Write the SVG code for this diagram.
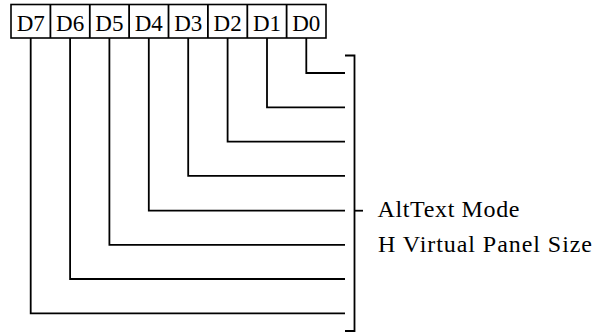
<svg xmlns="http://www.w3.org/2000/svg" width="607" height="332" viewBox="0 0 607 332">
<style>
.ln{fill:none;stroke:#000;stroke-width:1.8}
.box{fill:#fff;stroke:#000;stroke-width:1.6}
.reg{font-family:'Liberation Serif','Times New Roman',serif;font-size:23px;fill:#000;text-anchor:middle}
.lbl{font-family:'Liberation Serif','Times New Roman',serif;font-size:24px;fill:#000}
</style>
<rect width="607" height="332" fill="#fff"/>
<g id="connectors">
<polyline class="ln" points="306.3,38 306.3,73 345,73"/>
<polyline class="ln" points="267,38 267,107.3 345,107.3"/>
<polyline class="ln" points="227.6,38 227.6,141.6 345,141.6"/>
<polyline class="ln" points="188.2,38 188.2,175.9 345,175.9"/>
<polyline class="ln" points="148.8,38 148.8,210.7 345,210.7"/>
<polyline class="ln" points="109.4,38 109.4,244.8 345,244.8"/>
<polyline class="ln" points="70.1,38 70.1,279 345,279"/>
<polyline class="ln" points="30.7,38 30.7,313.3 345,313.3"/>
</g>
<g id="bracket">
<polyline class="ln" points="345,55.5 354.5,55.5 354.5,331 345,331"/>
<line class="ln" x1="354.5" y1="210.7" x2="363" y2="210.7"/>
</g>
<g id="register">
<rect class="box" x="11" y="4.5" width="315" height="33.5"/>
<line class="ln" x1="50.4" y1="4.5" x2="50.4" y2="38" stroke-width="1.6"/>
<line class="ln" x1="89.8" y1="4.5" x2="89.8" y2="38" stroke-width="1.6"/>
<line class="ln" x1="129.1" y1="4.5" x2="129.1" y2="38" stroke-width="1.6"/>
<line class="ln" x1="168.5" y1="4.5" x2="168.5" y2="38" stroke-width="1.6"/>
<line class="ln" x1="207.9" y1="4.5" x2="207.9" y2="38" stroke-width="1.6"/>
<line class="ln" x1="247.3" y1="4.5" x2="247.3" y2="38" stroke-width="1.6"/>
<line class="ln" x1="286.6" y1="4.5" x2="286.6" y2="38" stroke-width="1.6"/>
<text class="reg" x="30.7" y="30.5">D7</text>
<text class="reg" x="70.1" y="30.5">D6</text>
<text class="reg" x="109.4" y="30.5">D5</text>
<text class="reg" x="148.8" y="30.5">D4</text>
<text class="reg" x="188.2" y="30.5">D3</text>
<text class="reg" x="227.6" y="30.5">D2</text>
<text class="reg" x="267" y="30.5">D1</text>
<text class="reg" x="306.3" y="30.5">D0</text>
</g>
<g id="label-d4">
<text class="lbl" x="377.5" y="217" textLength="142" lengthAdjust="spacing">AltText Mode</text>
</g>
<g id="label-d5">
<text class="lbl" x="378" y="251.5" textLength="214" lengthAdjust="spacing">H Virtual Panel Size</text>
</g>
</svg>
